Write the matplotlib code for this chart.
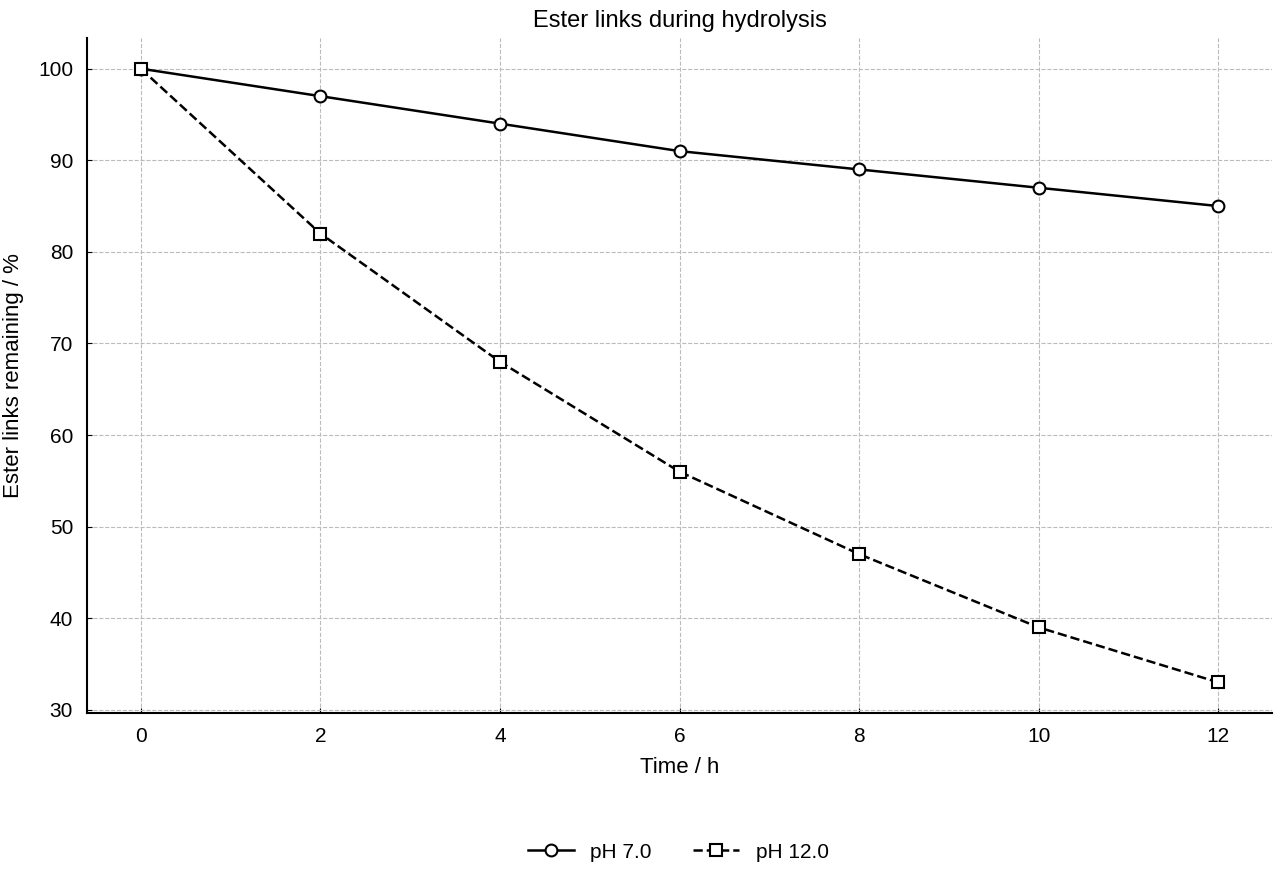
import matplotlib
matplotlib.use("Agg")
import matplotlib.pyplot as plt

plt.rcParams['font.family'] = ['Liberation Sans', 'DejaVu Sans']
plt.rcParams['font.size'] = 14

time_h = [0, 2, 4, 6, 8, 10, 12]
ph7 = [100, 97, 94, 91, 89, 87, 85]
ph12 = [100, 82, 68, 56, 47, 39, 33]

fig = plt.figure(figsize=(12.8, 8.8), dpi=100)
ax = fig.add_axes([87/1280, 1-713/880, (1272-87)/1280, (713-38)/880])
ax.plot(time_h, ph7, '-', color='black', lw=1.8, marker='o', ms=8.5,
        mfc='white', mec='black', mew=1.5, label='pH 7.0')
ax.plot(time_h, ph12, '--', color='black', lw=1.8, marker='s', ms=8.5,
        mfc='white', mec='black', mew=1.5, label='pH 12.0')
ax.set_xticks(time_h)
ax.set_yticks(range(30, 101, 10))
ax.grid(True, ls='--', color='#bbbbbb', lw=0.8)
ax.set_axisbelow(True)
ax.spines['top'].set_visible(False)
ax.spines['right'].set_visible(False)
ax.spines['left'].set_linewidth(1.5)
ax.spines['bottom'].set_linewidth(1.5)
ax.tick_params(direction='in', labelsize=15, pad=10)
ax.set_xlabel('Time / h', fontsize=16, labelpad=8)
ax.set_ylabel('Ester links remaining / %', fontsize=16, labelpad=10)
ax.set_title('Ester links during hydrolysis', fontsize=17, pad=8)
fig.legend(loc='center', bbox_to_anchor=(0.53, 1-852/880), ncol=2,
           frameon=False, fontsize=15, handlelength=2.2, columnspacing=2)
fig.savefig('out.png', dpi=100)
